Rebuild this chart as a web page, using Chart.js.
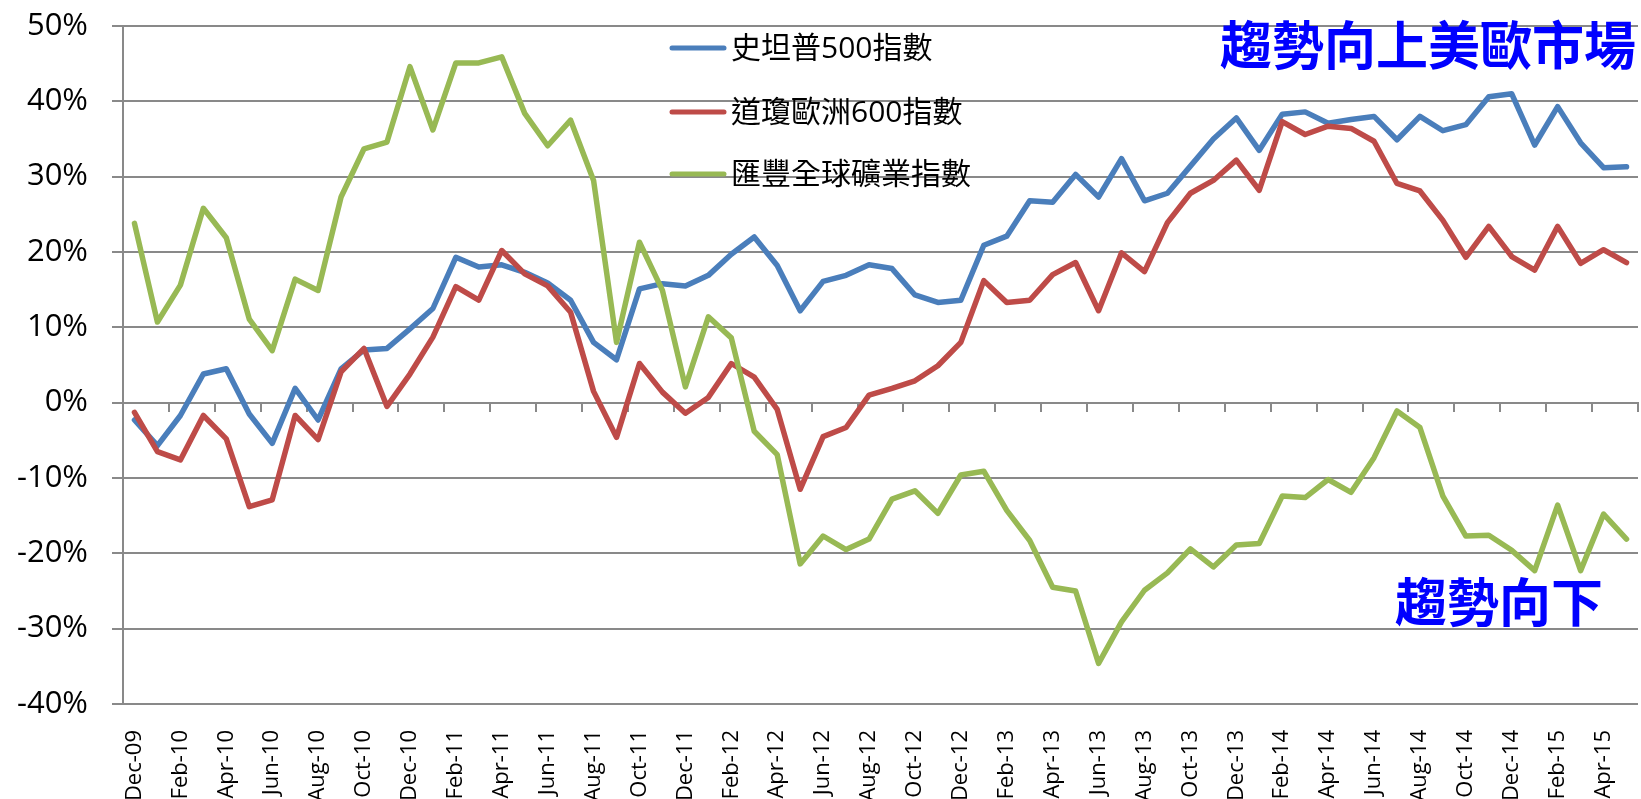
<!DOCTYPE html>
<html>
<head>
<meta charset="utf-8">
<title>趨勢</title>
<script src="https://cdn.jsdelivr.net/npm/chart.js@4.4.1/dist/chart.umd.min.js"></script>
<style>
  html, body { margin: 0; padding: 0; background: #fff; }
</style>
</head>
<body>
<canvas id="chart" width="1641" height="799"></canvas>
<script>
// monthly, Dec-09 .. May-15
const months = [
    'Dec-09',
    'Jan-10', 'Feb-10', 'Mar-10', 'Apr-10', 'May-10', 'Jun-10', 'Jul-10', 'Aug-10', 'Sep-10', 'Oct-10', 'Nov-10', 'Dec-10',
    'Jan-11', 'Feb-11', 'Mar-11', 'Apr-11', 'May-11', 'Jun-11', 'Jul-11', 'Aug-11', 'Sep-11', 'Oct-11', 'Nov-11', 'Dec-11',
    'Jan-12', 'Feb-12', 'Mar-12', 'Apr-12', 'May-12', 'Jun-12', 'Jul-12', 'Aug-12', 'Sep-12', 'Oct-12', 'Nov-12', 'Dec-12',
    'Jan-13', 'Feb-13', 'Mar-13', 'Apr-13', 'May-13', 'Jun-13', 'Jul-13', 'Aug-13', 'Sep-13', 'Oct-13', 'Nov-13', 'Dec-13',
    'Jan-14', 'Feb-14', 'Mar-14', 'Apr-14', 'May-14', 'Jun-14', 'Jul-14', 'Aug-14', 'Sep-14', 'Oct-14', 'Nov-14', 'Dec-14',
    'Jan-15', 'Feb-15', 'Mar-15', 'Apr-15', 'May-15'
];

// % change
const sp500 = [
    -2.3,
    -5.7, -1.7, 3.8, 4.5, -1.5, -5.4, 1.9, -2.3, 4.5, 7.0, 7.2, 9.8,
    12.5, 19.3, 18.0, 18.3, 17.3, 15.9, 13.6, 8.0, 5.7, 15.1, 15.8, 15.5,
    16.9, 19.7, 22.0, 18.2, 12.2, 16.1, 16.9, 18.3, 17.8, 14.3, 13.3, 13.6,
    20.9, 22.1, 26.8, 26.6, 30.3, 27.3, 32.4, 26.8, 27.8, 31.4, 35.0, 37.8,
    33.5, 38.3, 38.6, 37.1, 37.6, 38.0, 34.9, 38.0, 36.1, 36.9, 40.6, 41.0,
    34.2, 39.3, 34.5, 31.2, 31.3
];

const stoxx600 = [
    -1.3,
    -6.5, -7.6, -1.7, -4.8, -13.8, -12.9, -1.7, -4.9, 4.1, 7.2, -0.5, 3.8,
    8.7, 15.4, 13.6, 20.2, 17.1, 15.5, 12.0, 1.5, -4.6, 5.2, 1.4, -1.4,
    0.7, 5.2, 3.4, -0.9, -11.5, -4.5, -3.3, 1.0, 1.9, 2.9, 4.9, 8.0,
    16.2, 13.3, 13.6, 17.0, 18.6, 12.2, 19.9, 17.4, 23.9, 27.8, 29.5, 32.2,
    28.2, 37.3, 35.6, 36.7, 36.4, 34.7, 29.1, 28.1, 24.2, 19.3, 23.4, 19.4,
    17.6, 23.4, 18.5, 20.3, 18.6
];

const hsbcMining = [
    23.8,
    10.7, 15.6, 25.8, 21.9, 11.1, 6.9, 16.4, 14.9, 27.3, 33.7, 34.6, 44.6,
    36.2, 45.1, 45.1, 45.9, 38.4, 34.1, 37.5, 29.5, 8.0, 21.3, 14.9, 2.1,
    11.4, 8.6, -3.8, -6.9, -21.4, -17.7, -19.5, -18.1, -12.8, -11.7, -14.7, -9.6,
    -9.1, -14.3, -18.3, -24.5, -25.0, -34.6, -29.1, -24.9, -22.6, -19.4, -21.8, -18.9,
    -18.7, -12.4, -12.6, -10.2, -11.9, -7.3, -1.1, -3.3, -12.4, -17.7, -17.6, -19.6,
    -22.3, -13.6, -22.3, -14.8, -18.1
];

const seriesNames = ['史坦普500指數', '道瓊歐洲600指數', '匯豐全球礦業指數'];
const seriesColors = ['#4a7ebb', '#be4b48', '#98b954'];

const yMin = -40;
const yMax = 50;
const yStep = 10;

const gridGrey = '#898989';
const textFont = '"Open Sans", "Noto Sans CJK TC", sans-serif';

// legend sits inside the plot, stacked, like the Excel original
const stackedLegend = {
    id: 'stackedLegend',
    afterDatasetsDraw(chart) {
        const ctx = chart.ctx;
        const rows = [48, 112, 174];
        ctx.save();
        chart.data.datasets.forEach((ds, i) => {
            const y = rows[i];
            ctx.strokeStyle = ds.borderColor;
            ctx.lineWidth = 5;
            ctx.lineCap = 'round';
            ctx.beginPath();
            ctx.moveTo(672, y);
            ctx.lineTo(724, y);
            ctx.stroke();
            ctx.fillStyle = '#000';
            ctx.font = '30px ' + textFont;
            ctx.textBaseline = 'middle';
            ctx.fillText(ds.label, 731, y + 1);
        });
        ctx.restore();
    }
};

const trendNotes = {
    id: 'trendNotes',
    afterDatasetsDraw(chart) {
        const { ctx, chartArea, scales } = chart;
        ctx.save();
        ctx.fillStyle = '#0000ff';
        ctx.font = 'bold 52px "Noto Sans CJK TC", sans-serif';
        ctx.textBaseline = 'middle';
        ctx.textAlign = 'right';
        ctx.fillText('趨勢向上美歐市場', chartArea.right - 2, scales.y.getPixelForValue(47.4));
        ctx.fillText('趨勢向下', chartArea.right - 35, scales.y.getPixelForValue(-26.5));
        ctx.restore();
    }
};

new Chart(document.getElementById('chart'), {
    type: 'line',
    data: {
        labels: months,
        datasets: [
            { label: seriesNames[0], data: sp500, borderColor: seriesColors[0], borderWidth: 5.5, order: 3 },
            { label: seriesNames[1], data: stoxx600, borderColor: seriesColors[1], borderWidth: 5.5, order: 2 },
            { label: seriesNames[2], data: hsbcMining, borderColor: seriesColors[2], borderWidth: 5.5, order: 1 }
        ]
    },
    options: {
        responsive: false,
        animation: false,
        devicePixelRatio: 1,
        layout: { padding: { top: 26, right: 3, left: 0, bottom: 0 } },
        elements: {
            line: { tension: 0, fill: false, borderCapStyle: 'round', borderJoinStyle: 'round' },
            point: { radius: 0, hoverRadius: 0 }
        },
        plugins: {
            legend: { display: false },
            tooltip: { enabled: false }
        },
        scales: {
            x: {
                offset: true,
                grid: { display: false },
                border: { display: false },
                ticks: {
                    autoSkip: false,
                    minRotation: 90,
                    maxRotation: 90,
                    padding: 18,
                    color: '#000',
                    font: { family: textFont, size: 22 },
                    callback: (v, i) => (i % 2 === 0 ? months[i] : '')
                },
                afterFit: s => {
                    s.height = 95;
                    s.paddingLeft = 0;
                    s.paddingRight = 0;
                }
            },
            // axis line through 0% with tick marks every two months
            xZero: {
                type: 'category',
                position: { y: 0 },
                offset: true,
                grid: {
                    offset: true,
                    drawOnChartArea: false,
                    drawTicks: true,
                    tickLength: 8,
                    lineWidth: 2,
                    color: c => (c.index === undefined || c.index % 2 === 0 ? gridGrey : 'rgba(0,0,0,0)')
                },
                border: { display: true, color: gridGrey, width: 2 },
                ticks: { display: false }
            },
            y: {
                min: yMin,
                max: yMax,
                ticks: {
                    stepSize: yStep,
                    padding: 24,
                    color: '#000',
                    font: { family: textFont, size: 31 },
                    callback: v => v + '%'
                },
                grid: { color: gridGrey, lineWidth: 2, tickLength: 11 },
                border: { color: gridGrey, width: 2 },
                afterFit: s => {
                    s.width = 123;
                    s.paddingTop = 0;
                    s.paddingBottom = 0;
                }
            }
        }
    },
    plugins: [stackedLegend, trendNotes]
});
</script>
</body>
</html>
